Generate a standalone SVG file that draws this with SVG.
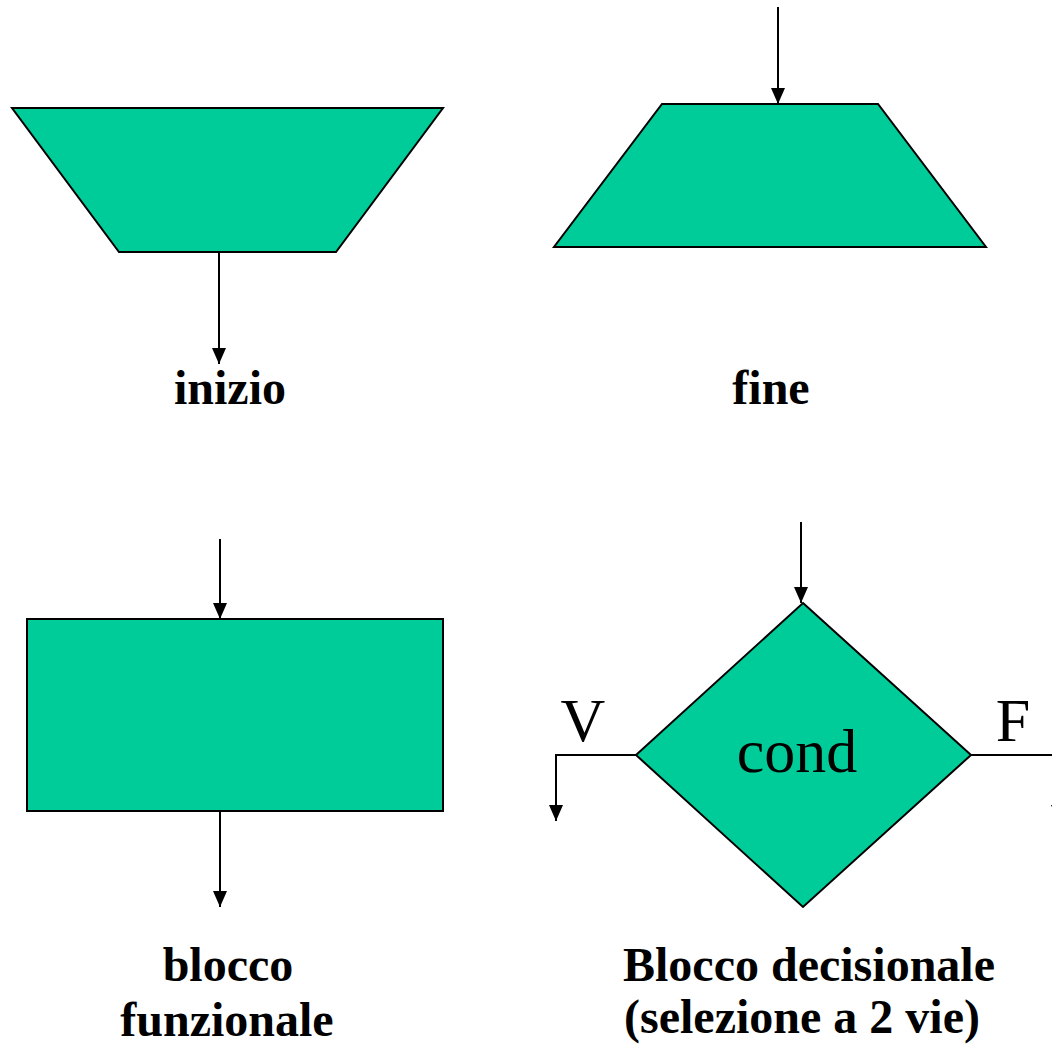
<svg xmlns="http://www.w3.org/2000/svg" width="1052" height="1045" viewBox="0 0 1052 1045">
<defs>
<marker id="ahd" markerWidth="16" markerHeight="14" refX="16" refY="7" orient="auto" markerUnits="userSpaceOnUse" viewBox="0 0 16 14">
<path d="M0,0 L16,7 L0,14 Z" fill="#000"/>
</marker>
</defs>
<style>
.shape{fill:#00CC99;stroke:#000;stroke-width:2;stroke-linejoin:miter}
.conn{fill:none;stroke:#000;stroke-width:2}
.lbl{font-family:"Liberation Serif","Times New Roman",serif;font-weight:bold;font-size:48px;fill:#000;text-anchor:middle}
.big{font-family:"Liberation Serif","Times New Roman",serif;font-size:62px;fill:#000;text-anchor:middle}
</style>
<rect width="1052" height="1045" fill="#fff"/>
<g id="inizio">
<polygon class="shape" points="12,108 443,108 336,252 119,252"/>
<text class="lbl" x="230" y="404">inizio</text>
</g>
<g id="fine">
<polygon class="shape" points="662,104 878,104 986,247 554,247"/>
<text class="lbl" x="771" y="404">fine</text>
</g>
<g id="blocco">
<rect class="shape" x="27" y="619" width="416" height="192"/>
<text class="lbl" x="228" y="981">blocco</text>
<text class="lbl" x="227" y="1036">funzionale</text>
</g>
<g id="decisione">
<polygon class="shape" points="803,603 971,755 803,907 636,755"/>
<text class="big" x="797" y="772">cond</text>
<text class="big" x="583" y="741">V</text>
<text class="big" x="1013" y="741">F</text>
<text class="lbl" x="809" y="981">Blocco decisionale</text>
<text class="lbl" x="802" y="1033">(selezione a 2 vie)</text>
</g>
<g id="connectors">
<line class="conn" x1="219" y1="252" x2="219" y2="364" marker-end="url(#ahd)"/>
<line class="conn" x1="778" y1="7" x2="778" y2="104" marker-end="url(#ahd)"/>
<line class="conn" x1="220" y1="539" x2="220" y2="619" marker-end="url(#ahd)"/>
<line class="conn" x1="220" y1="811" x2="220" y2="907" marker-end="url(#ahd)"/>
<line class="conn" x1="801" y1="522" x2="801" y2="603" marker-end="url(#ahd)"/>
<polyline class="conn" points="636,755 556,755 556,821" marker-end="url(#ahd)"/>
<polyline class="conn" points="971,755 1058,755 1058,821" marker-end="url(#ahd)"/>
</g>
</svg>
